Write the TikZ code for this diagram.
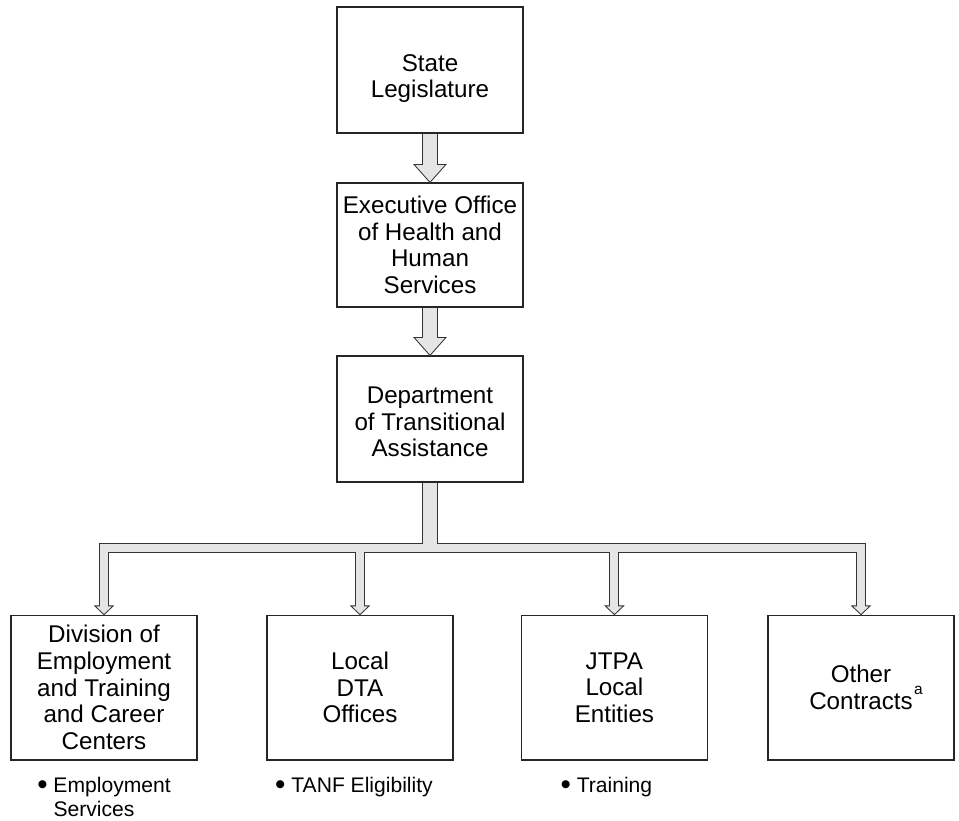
\documentclass[tikz,border=0pt]{standalone}
\usepackage{fontspec}
\setmainfont{Liberation Sans}
\usetikzlibrary{positioning}

\newcommand{\dutydot}{\raisebox{-1.2pt}{\fontsize{21}{17}\selectfont\textbullet}}

\begin{document}
\begin{tikzpicture}[
  box/.style={draw=black!85, line width=0.8pt, minimum width=4.65cm, align=center,
    font=\fontsize{17.2}{19}\selectfont},
  topbox/.style={box, minimum height=3.15cm},
  lowbox/.style={box, minimum height=3.62cm},
  duty/.style={align=left, font=\fontsize{15}{17}\selectfont},
  pipeedge/.style={draw=black!80, line width=#1, line join=miter},
  pipecore/.style={draw=gray!20, line width=#1},
  pipehead/.style={fill=gray!20, draw=black!80, line width=0.6pt, line join=miter}
]
\useasboundingbox (0,0) rectangle (23.975,-20.525);

\node[topbox] (sl) at (10.75,-1.75) {\raisebox{-6pt}[\height][\depth]{State}\\\raisebox{-6pt}[\height][\depth]{Legislature}};
\node[topbox, minimum height=3.1cm] (eo) at (10.75,-6.125) {Executive Office\\of Health and\\Human\\Services};
\node[topbox] (dta) at (10.75,-10.475) {\raisebox{-2pt}[\height][\depth]{Department}\\\raisebox{-2pt}[\height][\depth]{of Transitional}\\\raisebox{-2pt}[\height][\depth]{Assistance}};

\node[lowbox] (det) at (2.6,-17.19) {Division of\\Employment\\and Training\\and Career\\Centers};
\node[lowbox] (ldo) at (9.0,-17.19) {Local\\DTA\\Offices};
\node[lowbox] (jtpa) at (15.36,-17.19) {JTPA\\Local\\Entities};
\node[lowbox] (oc) at (21.525,-17.19) {Other\\Contracts\rlap{\hspace{1pt}\raisebox{0.62em}{\fontsize{11}{11}\selectfont a}}};

\node[duty, below=0.3cm of det] (detduty) {\dutydot\ Employment\\\phantom{\dutydot\ }Services};
\node[duty, below=0.3cm of ldo, xshift=-0.15cm] (ldoduty) {\dutydot\ TANF Eligibility};
\node[duty, below=0.3cm of jtpa, xshift=-0.2cm] (jtpaduty) {\dutydot\ Training};

\coordinate (bar) at (10.75,-13.7);

% fat arrows down the top column
\draw[pipeedge=10.7pt, shorten >=0.45cm] (sl) -- (eo);
\draw[pipeedge=10.7pt, shorten >=0.45cm] (eo) -- (dta);
\filldraw[pipehead] (eo.north) -- ++(-0.4,0.45) -- ++(0.8,0) -- cycle;
\filldraw[pipehead] (dta.north) -- ++(-0.4,0.45) -- ++(0.8,0) -- cycle;
\draw[pipecore=9.5pt, shorten <=0.4pt, shorten >=0.4cm] (sl) -- (eo);
\draw[pipecore=9.5pt, shorten <=0.4pt, shorten >=0.4cm] (eo) -- (dta);

% trunk and branches
\draw[pipeedge=10.7pt] (dta) -- (dta.south |- bar);
\foreach \b in {det,ldo,jtpa,oc}
  \draw[pipeedge=7pt, shorten >=0.22cm] (bar) -| (\b);
\foreach \b in {det,ldo,jtpa,oc}
  \filldraw[pipehead] (\b.north) -- ++(-0.23,0.22) -- ++(0.46,0) -- cycle;
\draw[pipecore=9.5pt, shorten <=0.4pt] (dta) -- (dta.south |- bar);
\foreach \b in {det,ldo,jtpa,oc}
  \draw[pipecore=5.8pt, shorten >=0.17cm] (bar) -| (\b);

\end{tikzpicture}
\end{document}
